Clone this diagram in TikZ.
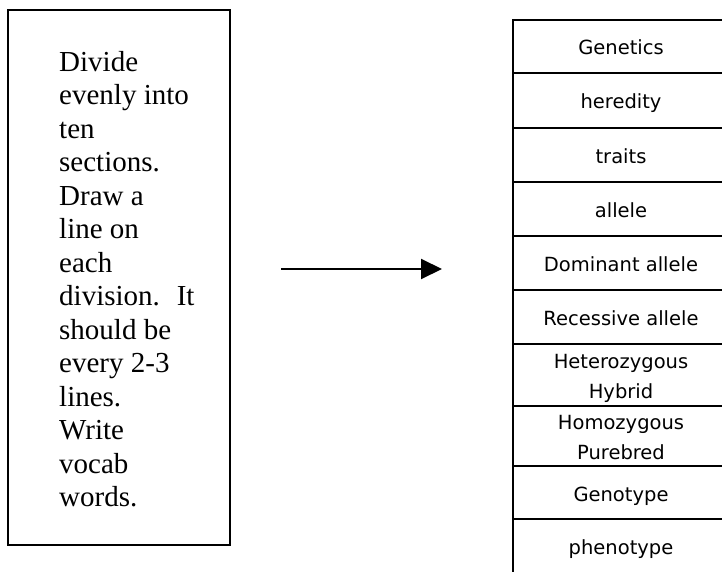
\documentclass[tikz,border=0pt]{standalone}
\usepackage{fontspec}
\setmainfont{Liberation Serif}
\newfontfamily\cellfont{DejaVu Sans}
\usetikzlibrary{arrows.meta}
\begin{document}
\begin{tikzpicture}[x=1pt,y=-1pt,
  frame/.style={draw, line width=2.4pt, inner sep=0pt, minimum width=222pt, minimum height=535pt},
  note/.style={anchor=north west, align=left, inner sep=0pt, font=\fontsize{29}{33.5}\selectfont},
  cell/.style={draw, line width=2.4pt, inner sep=0pt, minimum width=216pt, align=center,
    text height=17pt, text depth=0pt, font=\cellfont\fontsize{19.5}{30}\selectfont},
  twoline/.style={text height=47pt},
  link/.style={line width=2pt, -{Triangle[length=21pt,width=20pt]}}]
\clip (0,0) rectangle (722,572);
\node[frame] (box) at (119,277.5) {};
\node[note] (txt) at (59,51) {Divide\\evenly into\\ten\\sections.\\Draw a\\line on\\each\\division.~ It\\should be\\every 2-3\\lines.\\Write\\vocab\\words.};
\coordinate (a1) at (281,269);
\coordinate (a2) at (442,269);
\draw[link] (a1) -- (a2);
\node[cell, minimum height=53pt] (c1) at (621,46.5) {Genetics};
\node[cell, minimum height=55pt] (c2) at (621,100.5) {heredity};
\node[cell, minimum height=54pt] (c3) at (621,155) {traits};
\node[cell, minimum height=54pt] (c4) at (621,209) {allele};
\node[cell, minimum height=54pt] (c5) at (621,263) {Dominant allele};
\node[cell, minimum height=54pt] (c6) at (621,317) {Recessive allele};
\node[cell, twoline, minimum height=62pt] (c7) at (621,375) {Heterozygous\\Hybrid};
\node[cell, twoline, minimum height=60pt] (c8) at (621,436) {Homozygous\\Purebred};
\node[cell, minimum height=53pt] (c9) at (621,492.5) {Genotype};
\node[cell, minimum height=54pt] (c10) at (621,546) {phenotype};
\end{tikzpicture}
\end{document}
